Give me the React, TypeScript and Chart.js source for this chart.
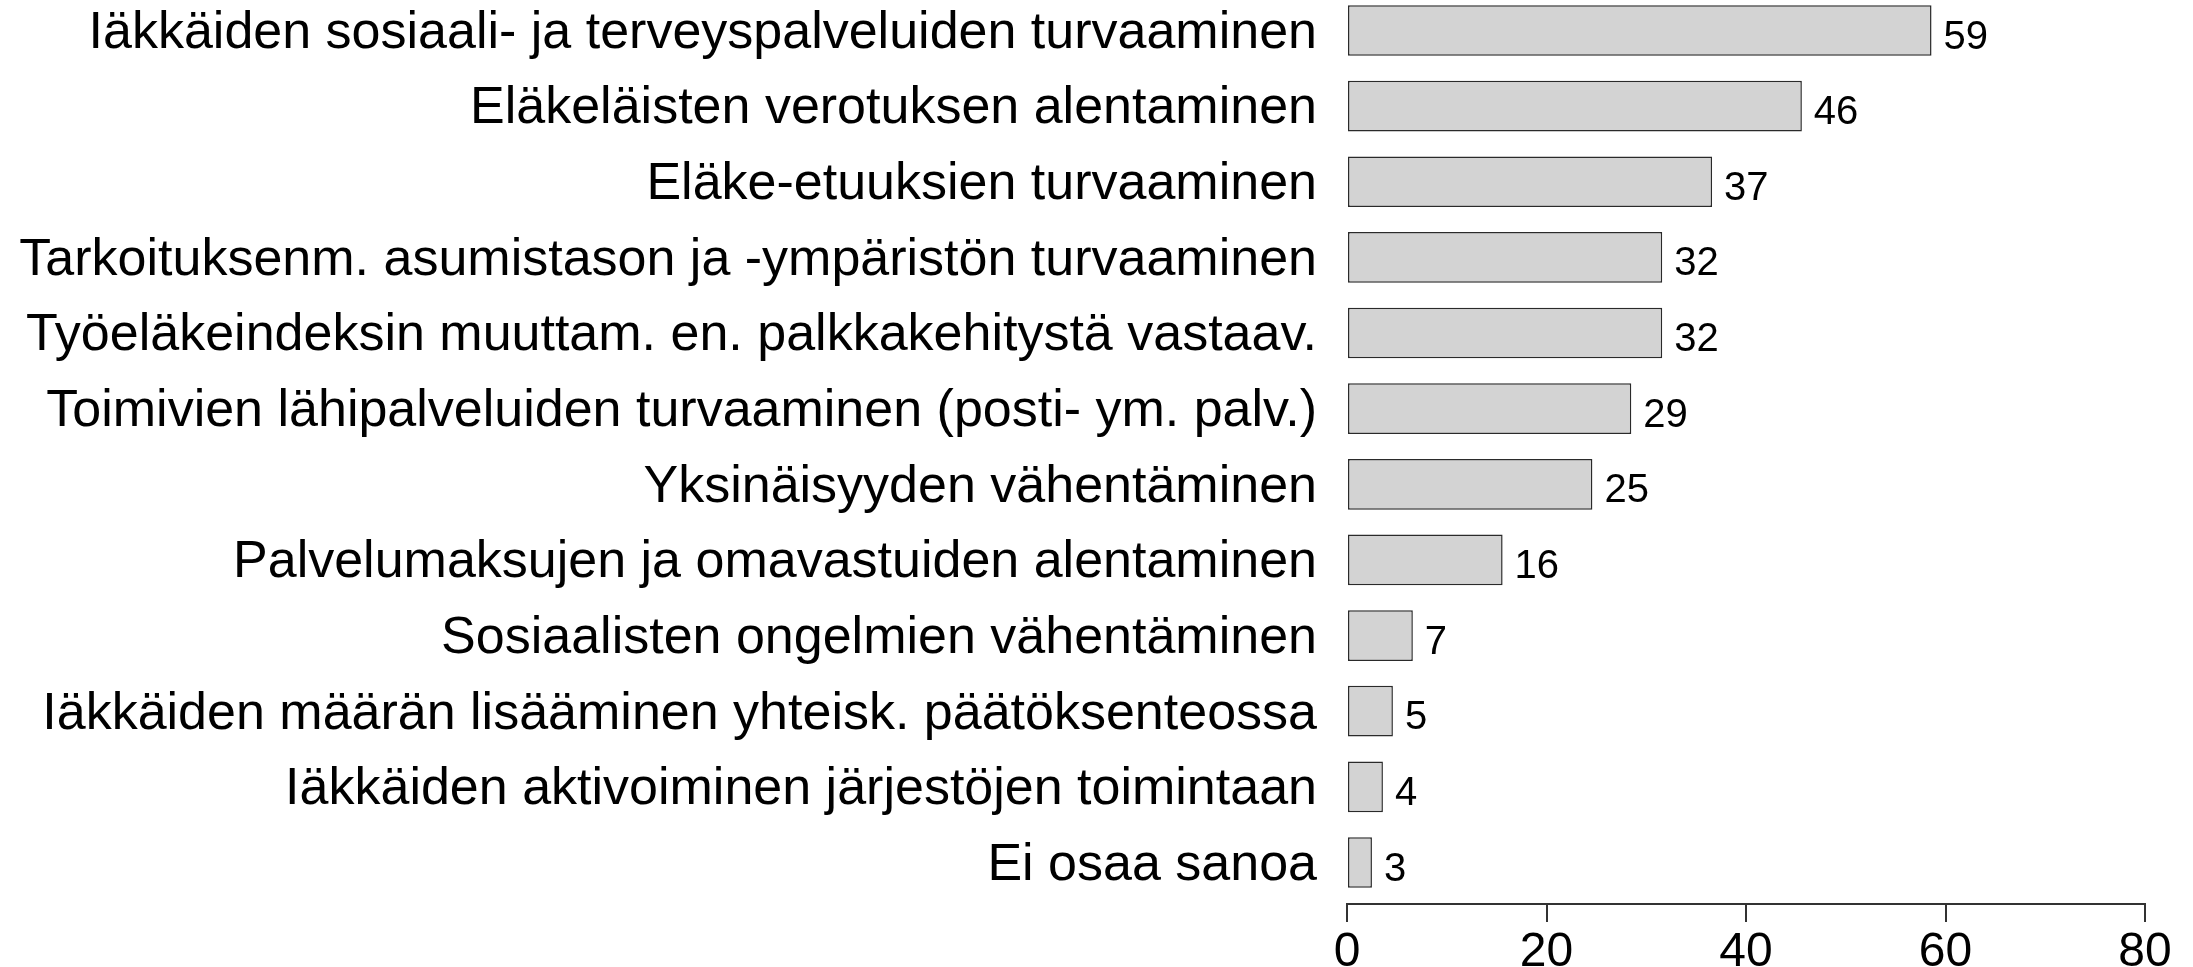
import React, { useEffect, useRef } from "react";
import { Chart, registerables } from "chart.js";

Chart.register(...registerables);

const categories: string[] = [
  "Iäkkäiden sosiaali- ja terveyspalveluiden turvaaminen",
  "Eläkeläisten verotuksen alentaminen",
  "Eläke-etuuksien turvaaminen",
  "Tarkoituksenm. asumistason ja -ympäristön turvaaminen",
  "Työeläkeindeksin muuttam. en. palkkakehitystä vastaav.",
  "Toimivien lähipalveluiden turvaaminen (posti- ym. palv.)",
  "Yksinäisyyden vähentäminen",
  "Palvelumaksujen ja omavastuiden alentaminen",
  "Sosiaalisten ongelmien vähentäminen",
  "Iäkkäiden määrän lisääminen yhteisk. päätöksenteossa",
  "Iäkkäiden aktivoiminen järjestöjen toimintaan",
  "Ei osaa sanoa",
];

const values: number[] = [58.6, 45.6, 36.6, 31.6, 31.6, 28.5, 24.6, 15.6, 6.6, 4.6, 3.6, 2.5];
const valueLabels: string[] = ["59", "46", "37", "32", "32", "29", "25", "16", "7", "5", "4", "3"];
const xTicks: number[] = [0, 20, 40, 60, 80];

const FONT = "'Liberation Sans', Arial, Helvetica, sans-serif";

export default function App() {
  const ref = useRef<HTMLCanvasElement | null>(null);

  useEffect(() => {
    const canvas = ref.current;
    if (!canvas) return;

    const valueLabelPlugin = {
      id: "valueLabels",
      afterDatasetsDraw(chart: any) {
        const ctx = chart.ctx;
        const meta = chart.getDatasetMeta(0);
        ctx.save();
        ctx.font = `40px ${FONT}`;
        ctx.fillStyle = "#000";
        ctx.textAlign = "left";
        ctx.textBaseline = "middle";
        meta.data.forEach((bar: any, i: number) => {
          ctx.fillText(valueLabels[i], bar.x + 12, bar.y + 7);
        });
        ctx.restore();
      },
    };

    const chart = new Chart(canvas, {
      type: "bar",
      data: {
        datasets: [
          {
            data: values.map((v, i) => ({ x: v, y: i })),
            backgroundColor: "#d3d3d3",
            borderColor: "#2a2a2a",
            borderWidth: 1.5,
            borderSkipped: false,
            categoryPercentage: 1,
            barPercentage: 0.67,
          },
        ],
      },
      options: {
        indexAxis: "y",
        responsive: false,
        animation: false,
        events: [],
        layout: { padding: { left: 0, right: 48, top: 0, bottom: 0 } },
        plugins: {
          legend: { display: false },
          tooltip: { enabled: false },
          title: { display: false },
        },
        scales: {
          x: {
            type: "linear",
            position: "bottom",
            min: xTicks[0],
            max: xTicks[xTicks.length - 1],
            afterBuildTicks: (scale: any) => {
              scale.ticks = xTicks.map((v) => ({ value: v }));
            },
            ticks: {
              font: { family: FONT, size: 48 },
              color: "#000",
              padding: 2,
              maxRotation: 0,
              autoSkip: false,
            },
            grid: {
              display: true,
              drawOnChartArea: false,
              drawTicks: true,
              tickLength: 18,
              color: "#333",
              lineWidth: 2,
            },
            border: { display: true, color: "#333", width: 2 },
            afterFit: (scale: any) => {
              scale.height = 63;
            },
          },
          y: {
            type: "linear",
            reverse: true,
            offset: false,
            bounds: "data",
            min: -0.403,
            max: 11.549,
            afterBuildTicks: (scale: any) => {
              scale.ticks = categories.map((_, i) => ({ value: i }));
            },
            ticks: {
              autoSkip: false,
              font: { family: FONT, size: 52 },
              color: "#000",
              padding: 30,
              labelOffset: 3,
              callback: (v: any) => {
                const n = Number(v);
                return Number.isInteger(n) && categories[n] !== undefined ? categories[n] : "";
              },
            },
            grid: { display: false, drawTicks: false, offset: false },
            border: { display: false },
            afterFit: (scale: any) => {
              scale.width = 1347;
              scale.paddingTop = 0;
              scale.paddingBottom = 0;
            },
          },
        },
      },
      plugins: [valueLabelPlugin],
    });

    return () => chart.destroy();
  }, []);

  return (
    <div style={{ position: "absolute", left: 0, top: 0, width: 2193, height: 967, background: "#fff" }}>
      <canvas ref={ref} width={2193} height={967} style={{ display: "block" }} />
    </div>
  );
}
